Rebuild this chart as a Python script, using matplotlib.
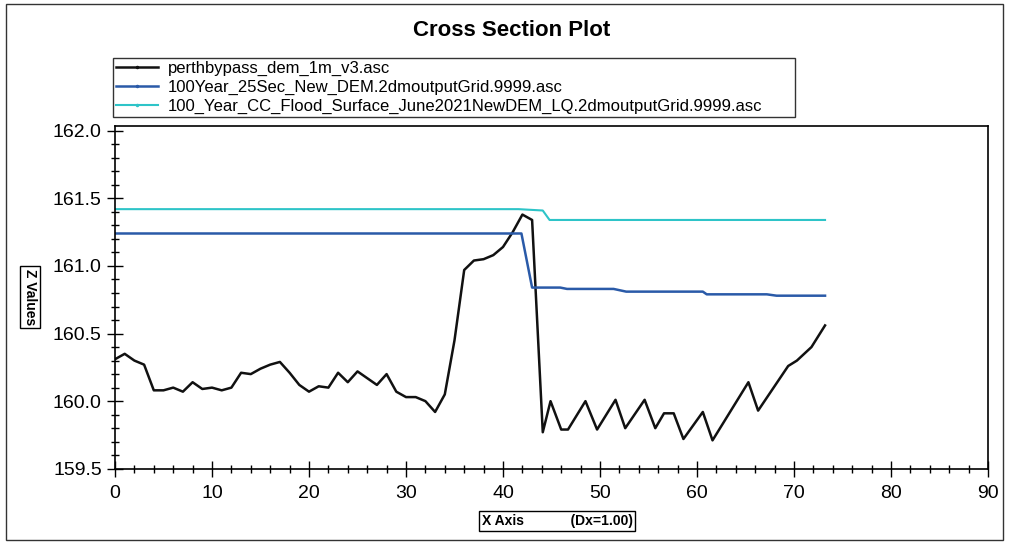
import numpy as np
import matplotlib
matplotlib.use("Agg")
import matplotlib.pyplot as plt
from matplotlib.patches import Rectangle
from matplotlib.lines import Line2D
from matplotlib.ticker import MultipleLocator

plt.rcParams['font.family'] = ['Liberation Sans', 'DejaVu Sans']

# series
ground_name = "perthbypass_dem_1m_v3.asc"
ground_x = [0, 1, 2, 3, 4, 5, 6, 7, 8, 9, 10, 11, 12, 13, 14, 15, 16, 17, 18, 19,
            20, 21, 22, 23, 24, 25, 26, 27, 28, 29, 30, 31, 32, 33, 34, 35, 36, 37,
            38, 39, 40, 41, 42, 43, 44.1, 44.9, 46.0, 46.7, 48.5, 49.7, 51.6, 52.6,
            54.6, 55.7, 56.6, 57.6, 58.6, 60.6, 61.6, 65.3, 66.3, 69.4, 70.3, 71.8, 73.2]
ground_z = [160.31, 160.35, 160.30, 160.27, 160.08, 160.08, 160.10, 160.07, 160.14, 160.09,
            160.10, 160.08, 160.10, 160.21, 160.20, 160.24, 160.27, 160.29, 160.21, 160.12,
            160.07, 160.11, 160.10, 160.21, 160.14, 160.22, 160.17, 160.12, 160.20, 160.07,
            160.03, 160.03, 160.00, 159.92, 160.05, 160.45, 160.97, 161.04, 161.05, 161.08,
            161.14, 161.25, 161.38, 161.34, 159.77, 160.00, 159.79, 159.79, 160.00, 159.79,
            160.01, 159.80, 160.01, 159.80, 159.91, 159.91, 159.72, 159.92, 159.71, 160.14,
            159.93, 160.26, 160.30, 160.40, 160.56]

flood_name = "100Year_25Sec_New_DEM.2dmoutputGrid.9999.asc"
flood_x = [0, 41.9, 43.0, 45.9, 46.6, 51.4, 52.7, 60.6, 61.0, 67.2, 68.2, 73.2]
flood_z = [161.24, 161.24, 160.84, 160.84, 160.83, 160.83, 160.81, 160.81, 160.79, 160.79,
           160.78, 160.78]

cc_name = "100_Year_CC_Flood_Surface_June2021NewDEM_LQ.2dmoutputGrid.9999.asc"
cc_x = [0, 41.6, 44.1, 44.8, 73.2]
cc_z = [161.42, 161.42, 161.41, 161.34, 161.34]

names = [ground_name, flood_name, cc_name]
colors = ['#111111', '#2a5aa8', '#2ec4c8']
widths = [1.8, 1.8, 1.5]

W, H = 1010, 544
fig = plt.figure(figsize=(W / 100, H / 100), dpi=100)
ax = fig.add_axes([115 / W, 1 - 468.75 / H, (988 - 115) / W, (468.75 - 126) / H])

ax.plot(ground_x, ground_z, color=colors[0], lw=widths[0])
ax.plot(flood_x, flood_z, color=colors[1], lw=widths[1])
ax.plot(cc_x, cc_z, color=colors[2], lw=widths[2])

ax.set_xlim(0, 90)
ax.set_ylim(159.5, 162.035)
ax.set_yticks(np.arange(159.5, 162.01, 0.5))
ax.yaxis.set_major_formatter(matplotlib.ticker.FormatStrFormatter('%.1f'))
ax.xaxis.set_major_locator(MultipleLocator(10))
ax.xaxis.set_minor_locator(MultipleLocator(2))
ax.yaxis.set_minor_locator(MultipleLocator(0.1))
ax.tick_params(which='major', direction='inout', length=11, width=1, labelsize=14)
ax.tick_params(which='minor', direction='inout', length=6, width=1)
ax.tick_params(axis='y', pad=4)
ax.tick_params(axis='x', pad=6)
for s in ax.spines.values():
    s.set_linewidth(1.2)

fig.text(512 / W, 1 - 30 / H, "Cross Section Plot", ha='center', va='center',
         fontsize=16, fontweight='bold')

fig.text(30 / W, 1 - 297 / H, "Z Values", rotation=270, ha='center', va='center',
         fontsize=10, fontweight='bold',
         bbox=dict(boxstyle='square,pad=0.2', fc='white', ec='black', lw=1))
fig.text(557 / W, 1 - 521 / H, "X Axis            (Dx=1.00)", ha='center', va='center',
         fontsize=10, fontweight='bold',
         bbox=dict(boxstyle='square,pad=0.2', fc='white', ec='black', lw=1))

handles = [Line2D([], [], color=c, lw=w, marker='.', ms=3) for c, w in zip(colors, widths)]
leg = fig.legend(handles, names, loc='upper left',
                 bbox_to_anchor=(113 / W, 1 - 120 / H, (795 - 113) / W, 62 / H),
                 mode='expand', fontsize=12, frameon=True, fancybox=False,
                 edgecolor='black', borderpad=0.2, labelspacing=0.22, handlelength=2.5,
                 handletextpad=0.6, numpoints=1, borderaxespad=0)
leg.get_frame().set_linewidth(1)

fig.patches.append(Rectangle((6 / W, 4 / H), 997 / W, 536 / H, transform=fig.transFigure,
                             fill=False, lw=1, ec='#333333'))

fig.savefig("out.png", dpi=100)
